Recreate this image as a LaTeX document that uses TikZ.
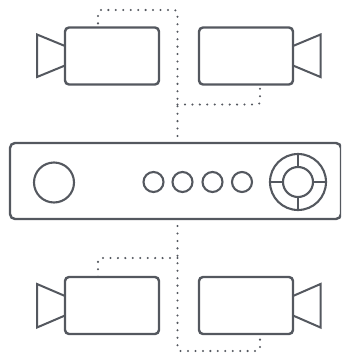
\documentclass[tikz,border=0pt]{standalone}
\definecolor{ink}{HTML}{54585F}
\tikzset{x=1pt,y=-1pt,
  box/.style={draw=ink,line width=2.4pt,rounded corners=4pt,minimum width=#1,inner sep=0pt,outer sep=0pt},
  cambody/.style={box=94pt,minimum height=57pt},
  cone/.style={draw=ink,line width=2pt,line join=miter},
  ring/.style={circle,draw=ink,line width=2.1pt,minimum size=#1,inner sep=0pt,outer sep=0pt},
  link/.style={draw=ink,line width=2.3pt,line cap=round,dash pattern=on 0pt off 7.45pt,rounded corners=3pt},
  spoke/.style={draw=ink,line width=2pt}}
\begin{document}
\begin{tikzpicture}
\useasboundingbox (0,0) rectangle (341,357);
\clip (0,0) rectangle (341,357);
% cameras
\node[cambody] (c1) at (112,56) {};
\node[cambody] (c2) at (246,56) {};
\node[cambody] (c3) at (112,305.5) {};
\node[cambody] (c4) at (246,305.5) {};
% lenses
\draw[cone] (65,46) -- (37,34.5) -- (37,77) -- (65,65.5);
\draw[cone] (293,46) -- (320.5,34.5) -- (320.5,77) -- (293,65.5);
\draw[cone] (65,296) -- (37,284) -- (37,327.5) -- (65,315.5);
\draw[cone] (293,296) -- (320.5,284) -- (320.5,327.5) -- (293,315.5);
% panel
\node[box=331pt,minimum height=76pt,rounded corners=5pt] (panel) at (175.5,181) {};
\node[ring=40pt] (knob) at (54,182.5) {};
\node[ring=20pt] (b1) at (153.5,182) {};
\node[ring=20pt] (b2) at (182.5,182) {};
\node[ring=20pt] (b3) at (212.5,182) {};
\node[ring=20pt] (b4) at (242,182) {};
\node[ring=56pt] (dial) at (298,182) {};
\node[ring=30pt] (hub) at (298,182) {};
\draw[spoke] (dial.north) -- (hub.north);
\draw[spoke] (dial.south) -- (hub.south);
\draw[spoke] (dial.west) -- (hub.west);
\draw[spoke] (dial.east) -- (hub.east);
% connectors
\coordinate (ptop) at (177.5,136);
\coordinate (pbot) at (177.5,226);
\draw[link] (ptop) -- (177.5,10) -- (98,10) -- ([xshift=-14pt]c1.north);
\draw[link] (177.5,104.5) -- (260,104.5) -- ([xshift=14pt]c2.south);
\draw[link] (pbot) -- (177.5,351) -- (260,351) -- ([xshift=14pt]c4.south);
\draw[link] (177.5,258) -- (98,258) -- ([xshift=-14pt]c3.north);
\end{tikzpicture}
\end{document}
